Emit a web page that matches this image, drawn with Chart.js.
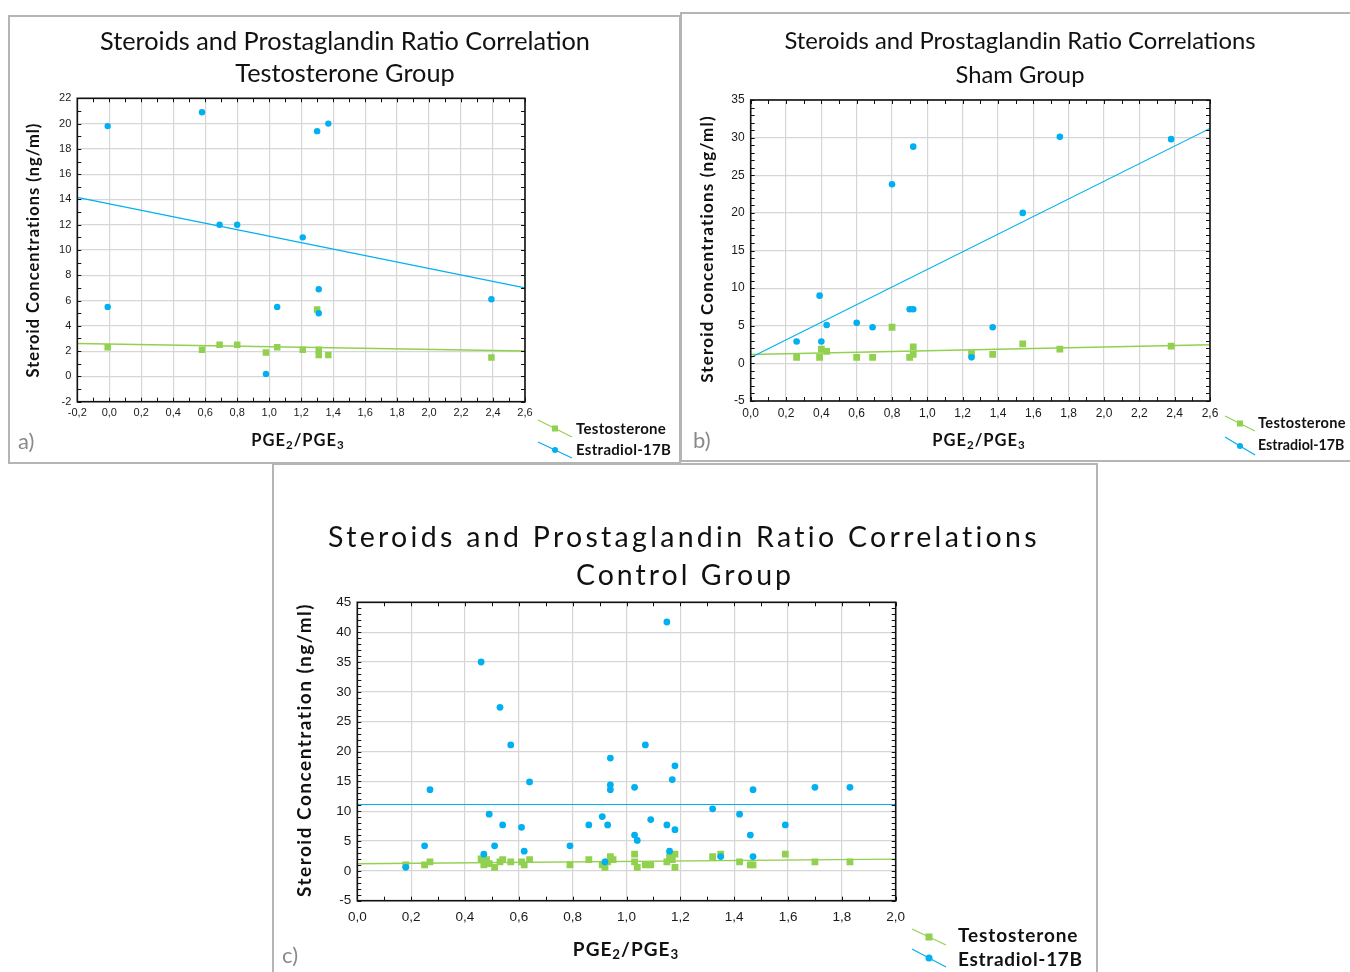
<!DOCTYPE html>
<html>
<head>
<meta charset="utf-8">
<script src="https://cdn.jsdelivr.net/npm/chart.js@4.4.1/dist/chart.umd.min.js"></script>
<style>
  body { margin: 0; background: #fff; width: 1350px; height: 972px; position: relative; overflow: hidden;
         font-family: Lato, 'Open Sans', sans-serif; color: #111; }
  .box { position: absolute; border: 2px solid #b4b4b4; box-sizing: border-box; }
  .t { position: absolute; white-space: nowrap; line-height: 1; }
  .c { transform: translate(-50%, -50%); }
  .l { transform: translateY(-50%); }
  .rot { transform: translate(-50%, -50%) rotate(-90deg); }
  .b { font-weight: bold; }
  .lab { color: #8a8a8a; }
  sub { font-size: 70%; vertical-align: -0.25em; }
  canvas { position: absolute; }
  svg { position: absolute; left: 0; top: 0; }
</style>
</head>
<body>
<div class="box" style="left:8px;top:15px;width:673px;height:449px"></div>
<div class="box" style="left:680px;top:12px;width:680px;height:450px"></div>
<div class="box" style="left:272px;top:463px;width:826px;height:520px"></div>

<canvas id="chartA"></canvas>
<canvas id="chartB"></canvas>
<canvas id="chartC"></canvas>
<svg id="legendIcons" width="1350" height="972"></svg>

<script>
// Testosterone group (a)
const aTestoX = [-0.01, 0.58, 0.69, 0.80, 0.98, 1.05, 1.21, 1.30, 1.31, 1.31, 1.37, 2.39];
const aTestoY = [2.3, 2.1, 2.5, 2.5, 1.9, 2.3, 2.1, 5.3, 2.1, 1.7, 1.7, 1.5];
const aEstraX = [-0.01, -0.01, 0.58, 0.69, 0.80, 0.98, 1.05, 1.21, 1.30, 1.31, 1.31, 1.37, 2.39];
const aEstraY = [19.8, 5.5, 20.9, 12.0, 12.0, 0.2, 5.5, 11.0, 19.4, 6.9, 5.0, 20.0, 6.1];

// Sham group (b)
const bTestoX = [0.26, 0.39, 0.40, 0.43, 0.60, 0.69, 0.80, 0.90, 0.92, 0.92, 1.25, 1.37, 1.54, 1.75, 2.38];
const bTestoY = [0.8, 0.8, 1.9, 1.6, 0.8, 0.8, 4.8, 0.8, 2.2, 1.2, 1.3, 1.2, 2.6, 1.9, 2.3];
const bEstraX = [0.26, 0.39, 0.40, 0.43, 0.60, 0.69, 0.80, 0.92, 0.90, 0.92, 1.25, 1.37, 1.54, 1.75, 2.38];
const bEstraY = [2.9, 9.0, 2.9, 5.1, 5.4, 4.8, 23.8, 28.8, 7.2, 7.2, 0.8, 4.8, 20.0, 30.1, 29.8];

// Control group (c)
const cTestoX = [0.18, 0.25, 0.27, 0.46, 0.47, 0.48, 0.49, 0.51, 0.53, 0.54, 0.57, 0.61, 0.62, 0.64,
                 0.79, 0.86, 0.91, 0.92, 0.93, 0.94, 0.95, 1.03, 1.03, 1.04, 1.07, 1.09, 1.15, 1.16,
                 1.17, 1.18, 1.18, 1.32, 1.35, 1.42, 1.46, 1.47, 1.59, 1.70, 1.83];
const cTestoY = [1.0, 1.0, 1.5, 2.0, 1.0, 1.9, 1.2, 0.6, 1.5, 1.9, 1.5, 1.5, 1.0, 1.9,
                 1.0, 1.9, 1.0, 0.6, 1.5, 2.4, 1.9, 2.8, 1.5, 0.6, 1.0, 1.0, 1.5, 2.4,
                 1.9, 2.8, 0.6, 2.4, 2.8, 1.5, 1.0, 1.0, 2.8, 1.5, 1.5];
const cEstraX = [0.18, 0.25, 0.27, 0.46, 0.47, 0.49, 0.51, 0.53, 0.54, 0.57, 0.61, 0.62, 0.64, 0.79,
                 0.86, 0.91, 0.92, 0.93, 0.94, 0.94, 0.94, 1.03, 1.03, 1.04, 1.07, 1.09, 1.15, 1.15,
                 1.16, 1.17, 1.18, 1.18, 1.32, 1.35, 1.42, 1.46, 1.47, 1.47, 1.59, 1.70, 1.83];
const cEstraY = [0.6, 4.2, 13.6, 35.0, 2.8, 9.5, 4.2, 27.4, 7.7, 21.1, 7.3, 3.3, 14.9, 4.2,
                 7.7, 9.1, 1.5, 7.7, 18.9, 14.4, 13.6, 14.0, 6.0, 5.1, 21.1, 8.6, 41.7, 7.7,
                 3.3, 15.3, 17.6, 6.9, 10.4, 2.4, 9.5, 6.0, 13.6, 2.4, 7.7, 14.0, 14.0];

const BLUE = '#00b0f0';
const GREEN = '#92d050';

function pts(xs, ys) { return xs.map((x, i) => ({ x, y: ys[i] })); }

// least-squares line across the whole x range
function fitLine(xs, ys, x0, x1) {
  const n = xs.length;
  const mx = xs.reduce((s, v) => s + v, 0) / n;
  const my = ys.reduce((s, v) => s + v, 0) / n;
  let sxy = 0, sxx = 0;
  xs.forEach((x, i) => { sxy += (x - mx) * (ys[i] - my); sxx += (x - mx) * (x - mx); });
  const m = sxy / sxx, b = my - m * mx;
  return [{ x: x0, y: m * x0 + b }, { x: x1, y: m * x1 + b }];
}

// frame + inward minor ticks on all four sides
const plotFrame = {
  id: 'plotFrame',
  afterDatasetsDraw(chart, args, o) {
    const { ctx, chartArea: a, scales: { x, y } } = chart;
    ctx.save();
    ctx.strokeStyle = '#111';
    ctx.lineWidth = 1;
    ctx.beginPath();
    const nx = Math.round((x.max - x.min) / o.x);
    for (let i = 0; i <= nx; i++) {
      const px = Math.round(x.getPixelForValue(x.min + i * o.x)) + 0.5;
      ctx.moveTo(px, a.top); ctx.lineTo(px, a.top + o.len);
      ctx.moveTo(px, a.bottom); ctx.lineTo(px, a.bottom - o.len);
    }
    const ny = Math.round((y.max - y.min) / o.y);
    for (let i = 0; i <= ny; i++) {
      const py = Math.round(y.getPixelForValue(y.min + i * o.y)) + 0.5;
      ctx.moveTo(a.left, py); ctx.lineTo(a.left + o.len, py);
      ctx.moveTo(a.right, py); ctx.lineTo(a.right - o.len, py);
    }
    ctx.stroke();
    ctx.lineWidth = 1.6;
    ctx.strokeRect(a.left, a.top, a.right - a.left, a.bottom - a.top);
    ctx.restore();
  }
};

function makeChart(id, area, cfg) {
  const L = Math.floor(area.l) - 50, T = Math.floor(area.t) - 14;
  const W = Math.ceil(area.r) + 22 - L, H = Math.ceil(area.b) + 28 - T;
  const cv = document.getElementById(id);
  cv.width = W; cv.height = H;
  cv.style.left = L + 'px'; cv.style.top = T + 'px';
  const tickFont = { family: "'Liberation Sans', Arial, sans-serif", size: cfg.fontSize };
  const commaFmt = v => Number(v).toFixed(1).replace('.', ',');
  return new Chart(cv, {
    type: 'scatter',
    data: {
      datasets: [
        { data: pts(cfg.ex, cfg.ey), backgroundColor: BLUE, borderWidth: 0, pointRadius: cfg.dot, pointStyle: 'circle' },
        { data: pts(cfg.tx, cfg.ty), backgroundColor: GREEN, borderWidth: 0, pointRadius: cfg.sq, pointStyle: 'rect' },
        { data: fitLine(cfg.ex, cfg.ey, cfg.xMin, cfg.xMax), showLine: true, borderColor: BLUE, borderWidth: 1.1, pointRadius: 0 },
        { data: fitLine(cfg.tx, cfg.ty, cfg.xMin, cfg.xMax), showLine: true, borderColor: GREEN, borderWidth: 1.4, pointRadius: 0 },
      ]
    },
    options: {
      responsive: false,
      animation: false,
      layout: { padding: { left: 0, top: area.t - T, right: L + W - area.r, bottom: 0 } },
      plugins: { legend: { display: false }, tooltip: { enabled: false }, plotFrame: { x: cfg.minorX, y: cfg.minorY, len: 4 } },
      scales: {
        x: {
          type: 'linear', min: cfg.xMin, max: cfg.xMax,
          afterFit: s => { s.height = T + H - area.b; },
          grid: { color: '#d6d6d6', lineWidth: 1.2, drawTicks: false },
          border: { display: false },
          ticks: { stepSize: cfg.xStep, autoSkip: false, maxRotation: 0, padding: cfg.xPad, color: '#1a1a1a', font: tickFont, callback: commaFmt }
        },
        y: {
          type: 'linear', min: cfg.yMin, max: cfg.yMax,
          afterFit: s => { s.width = area.l - L; },
          grid: { color: '#d6d6d6', lineWidth: 1.2, drawTicks: false },
          border: { display: false },
          ticks: { stepSize: cfg.yStep, autoSkip: false, padding: 6, color: '#1a1a1a', font: tickFont }
        }
      }
    },
    plugins: [plotFrame]
  });
}

makeChart('chartA', { l: 77.3, t: 98.3, r: 525, b: 401.7 }, {
  tx: aTestoX, ty: aTestoY, ex: aEstraX, ey: aEstraY,
  xMin: -0.2, xMax: 2.6, xStep: 0.2, yMin: -2, yMax: 22, yStep: 2,
  minorX: 0.1, minorY: 1, fontSize: 11, dot: 3.2, sq: 4.6, xPad: 5
});
makeChart('chartB', { l: 750.7, t: 100, r: 1210, b: 401 }, {
  tx: bTestoX, ty: bTestoY, ex: bEstraX, ey: bEstraY,
  xMin: 0, xMax: 2.6, xStep: 0.2, yMin: -5, yMax: 35, yStep: 5,
  minorX: 0.1, minorY: 1, fontSize: 12, dot: 3.3, sq: 4.8, xPad: 5
});
makeChart('chartC', { l: 357.3, t: 602.3, r: 895.7, b: 900.7 }, {
  tx: cTestoX, ty: cTestoY, ex: cEstraX, ey: cEstraY,
  xMin: 0, xMax: 2.0, xStep: 0.2, yMin: -5, yMax: 45, yStep: 5,
  minorX: 0.1, minorY: 1, fontSize: 13.5, dot: 3.4, sq: 4.8, xPad: 8
});

// titles, axis titles, panel letters and legend text
function put(html, cls, x, y, style) {
  const d = document.createElement('div');
  d.className = 't ' + cls;
  d.innerHTML = html;
  d.style.left = x + 'px'; d.style.top = y + 'px';
  Object.assign(d.style, style || {});
  document.body.appendChild(d);
}
const ratio = 'PGE<sub>2</sub>/PGE<sub>3</sub>';

put('Steroids and Prostaglandin Ratio Correlation', 'c', 345, 41, { fontSize: '25.3px' });
put('Testosterone Group', 'c', 345, 73, { fontSize: '25.3px' });
put('Steroid Concentrations (ng/ml)', 'rot b', 33, 250, { fontSize: '16.5px', letterSpacing: '1px' });
put(ratio, 'c b', 298, 441, { fontSize: '16.5px', letterSpacing: '1px' });
put('a)', 'lab', 18, 441, { fontSize: '22px', transform: 'translateY(-50%)' });
put('Testosterone', 'l b', 576, 428, { fontSize: '15px', letterSpacing: '0.3px' });
put('Estradiol-17B', 'l b', 576, 449, { fontSize: '15px', letterSpacing: '0.3px' });

put('Steroids and Prostaglandin Ratio Correlations', 'c', 1020, 41, { fontSize: '23.8px' });
put('Sham Group', 'c', 1020, 75, { fontSize: '23.8px' });
put('Steroid Concentrations (ng/ml)', 'rot b', 706, 249, { fontSize: '17px', letterSpacing: '1.2px' });
put(ratio, 'c b', 979, 441, { fontSize: '16.5px', letterSpacing: '1px' });
put('b)', 'lab', 693, 440, { fontSize: '22px', transform: 'translateY(-50%)' });
put('Testosterone', 'l b', 1258, 423, { fontSize: '14.6px', letterSpacing: '0.3px' });
put('Estradiol-17B', 'l b', 1258, 445, { fontSize: '14.2px' });

put('Steroids and Prostaglandin Ratio Correlations', 'c', 684, 536, { fontSize: '28.5px', letterSpacing: '3.3px' });
put('Control Group', 'c', 685, 574, { fontSize: '28.5px', letterSpacing: '3px' });
put('Steroid Concentration (ng/ml)', 'rot b', 303, 750, { fontSize: '19px', letterSpacing: '1.5px' });
put(ratio, 'c b', 626, 950, { fontSize: '19px', letterSpacing: '1px' });
put('c)', 'lab', 282, 955, { fontSize: '22px', transform: 'translateY(-50%)' });
put('Testosterone', 'l b', 958, 934, { fontSize: '19px', letterSpacing: '0.9px' });
put('Estradiol-17B', 'l b', 958, 958, { fontSize: '19px', letterSpacing: '0.7px' });

// legend keys: slanted line with the series marker in the middle
const svg = document.getElementById('legendIcons');
function key(x0, y0, x1, y1, color, square, size) {
  const ns = 'http://www.w3.org/2000/svg';
  const ln = document.createElementNS(ns, 'line');
  ln.setAttribute('x1', x0); ln.setAttribute('y1', y0); ln.setAttribute('x2', x1); ln.setAttribute('y2', y1);
  ln.setAttribute('stroke', color); ln.setAttribute('stroke-width', 1.2);
  svg.appendChild(ln);
  const cx = (x0 + x1) / 2, cy = (y0 + y1) / 2;
  let m;
  if (square) {
    m = document.createElementNS(ns, 'rect');
    m.setAttribute('x', cx - size / 2); m.setAttribute('y', cy - size / 2);
    m.setAttribute('width', size); m.setAttribute('height', size);
  } else {
    m = document.createElementNS(ns, 'circle');
    m.setAttribute('cx', cx); m.setAttribute('cy', cy); m.setAttribute('r', size / 2);
  }
  m.setAttribute('fill', color);
  svg.appendChild(m);
}
key(538, 420, 572, 437, GREEN, true, 6);
key(538, 442, 572, 458, BLUE, false, 6);
key(1225, 416, 1255, 431, GREEN, true, 6);
key(1225, 437, 1255, 455, BLUE, false, 6);
key(912, 929, 946, 945, GREEN, true, 7);
key(912, 949, 946, 967, BLUE, false, 7);
</script>
</body>
</html>
